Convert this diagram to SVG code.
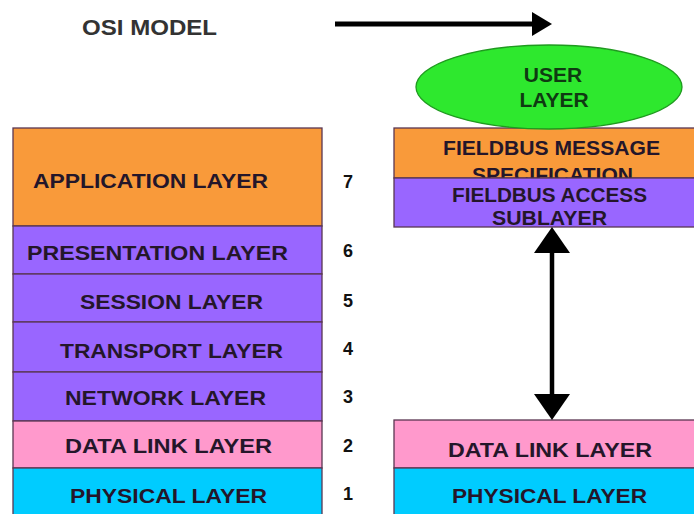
<svg xmlns="http://www.w3.org/2000/svg" width="694" height="514" viewBox="0 0 694 514">
<style>
text{font-family:"Liberation Sans",Arial,sans-serif;font-weight:bold;fill:#24162a}
.lbl{font-size:21px}
.num{font-size:18px;fill:#111}
.ttl{font-size:22px;fill:#333}
.ly{stroke:#5a3652;stroke-width:1.3}
.org{fill:#f99a3a}
.pur{fill:#9966ff}
.pnk{fill:#ff99cc}
.cyn{fill:#00ccff}
.grn{fill:#2ee82e;stroke:#1f9a1f;stroke-width:1.3}
.sh{stroke:#000;fill:none}
</style>
<defs>
<marker id="headS" viewBox="0 0 20 24" markerWidth="20" markerHeight="24" refX="0" refY="12" orient="auto-start-reverse" markerUnits="userSpaceOnUse"><path d="M0,0 L20,12 L0,24 z" fill="#000"/></marker>
<marker id="headL" viewBox="0 0 26 36" markerWidth="26" markerHeight="36" refX="0" refY="18" orient="auto-start-reverse" markerUnits="userSpaceOnUse"><path d="M0,0 L26,18 L0,36 z" fill="#000"/></marker>
</defs>
<rect width="694" height="514" fill="#fff"/>
<text id="title" class="ttl" x="82" y="35" textLength="135" lengthAdjust="spacingAndGlyphs">OSI MODEL</text>
<g id="osi-application"><rect class="ly org" x="13" y="128" width="309" height="98"/><text class="lbl" x="33" y="188" textLength="235" lengthAdjust="spacingAndGlyphs">APPLICATION LAYER</text></g>
<g id="osi-presentation"><rect class="ly pur" x="13" y="226" width="309" height="48"/><text class="lbl" x="27" y="260" textLength="261" lengthAdjust="spacingAndGlyphs">PRESENTATION LAYER</text></g>
<g id="osi-session"><rect class="ly pur" x="13" y="274" width="309" height="48"/><text class="lbl" x="80" y="309" textLength="183" lengthAdjust="spacingAndGlyphs">SESSION LAYER</text></g>
<g id="osi-transport"><rect class="ly pur" x="13" y="322" width="309" height="50"/><text class="lbl" x="60" y="358" textLength="223" lengthAdjust="spacingAndGlyphs">TRANSPORT LAYER</text></g>
<g id="osi-network"><rect class="ly pur" x="13" y="372" width="309" height="49"/><text class="lbl" x="65" y="405" textLength="201" lengthAdjust="spacingAndGlyphs">NETWORK LAYER</text></g>
<g id="osi-datalink"><rect class="ly pnk" x="13" y="421" width="309" height="47"/><text class="lbl" x="65" y="453" textLength="207" lengthAdjust="spacingAndGlyphs">DATA LINK LAYER</text></g>
<g id="osi-physical"><rect class="ly cyn" x="13" y="468" width="309" height="47"/><text class="lbl" x="70" y="503" textLength="197" lengthAdjust="spacingAndGlyphs">PHYSICAL LAYER</text></g>
<g id="layer-numbers">
<text class="num" x="343" y="188">7</text>
<text class="num" x="343" y="257">6</text>
<text class="num" x="343" y="307">5</text>
<text class="num" x="343" y="355">4</text>
<text class="num" x="343" y="403">3</text>
<text class="num" x="343" y="452">2</text>
<text class="num" x="343" y="500">1</text>
</g>
<g id="fb-fms"><rect class="ly org" x="394" y="128" width="301" height="50"/><text class="lbl" x="443" y="155" textLength="217" lengthAdjust="spacingAndGlyphs">FIELDBUS MESSAGE</text><text class="lbl" x="472" y="182" textLength="161" lengthAdjust="spacingAndGlyphs">SPECIFICATION</text></g>
<g id="fb-fas"><rect class="ly pur" x="394" y="178" width="301" height="49"/><text class="lbl" x="452" y="202" textLength="195" lengthAdjust="spacingAndGlyphs">FIELDBUS ACCESS</text><text class="lbl" x="492" y="225" textLength="115" lengthAdjust="spacingAndGlyphs">SUBLAYER</text></g>
<g id="fb-datalink"><rect class="ly pnk" x="394" y="420" width="301" height="48"/><text class="lbl" x="448" y="457" textLength="204" lengthAdjust="spacingAndGlyphs">DATA LINK LAYER</text></g>
<g id="fb-physical"><rect class="ly cyn" x="394" y="468" width="301" height="47"/><text class="lbl" x="452" y="503" textLength="195" lengthAdjust="spacingAndGlyphs">PHYSICAL LAYER</text></g>
<g id="user-layer"><ellipse class="grn" cx="549" cy="87" rx="133" ry="42"/><text class="lbl" x="553" y="82" text-anchor="middle" style="fill:#0f3a12">USER</text><text class="lbl" x="554" y="107" text-anchor="middle" style="fill:#0f3a12">LAYER</text></g>
<g id="connectors">
<line class="sh" x1="335" y1="24" x2="532" y2="24" stroke-width="5" marker-end="url(#headS)"/>
<line class="sh" x1="552" y1="253" x2="552" y2="394" stroke-width="4.5" marker-start="url(#headL)" marker-end="url(#headL)"/>
</g>
</svg>
